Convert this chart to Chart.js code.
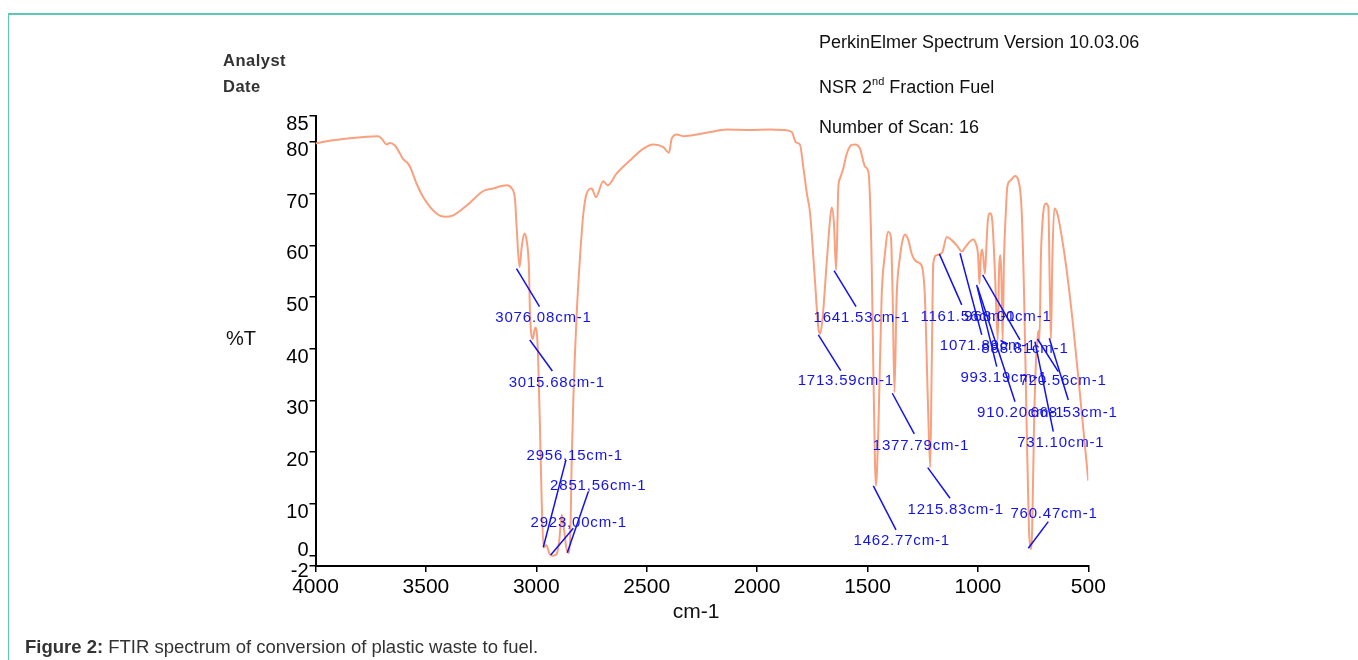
<!DOCTYPE html>
<html>
<head>
<meta charset="utf-8">
<script src="https://cdn.jsdelivr.net/npm/chart.js@4.4.1/dist/chart.umd.min.js"></script>
<style>
html,body{margin:0;padding:0;background:#fff;}
#wrap{position:relative;width:1358px;height:660px;overflow:hidden;background:#fff;font-family:'Liberation Sans',Arial,sans-serif;}
#frame{position:absolute;left:8px;top:13px;width:1350px;height:647px;border-top:2px solid #5ec8b6;border-left:1px solid #5ec8b6;box-sizing:border-box;}
canvas{position:absolute;left:0;top:0;}
.t{position:absolute;white-space:nowrap;line-height:1;color:#111;}
</style>
</head>
<body>
<div id="wrap">
  <div id="frame"></div>
  <canvas id="c" width="1358" height="660"></canvas>
  <div class="t" style="left:223px;top:52px;font-size:16.5px;font-weight:bold;letter-spacing:0.5px;color:#333;">Analyst</div>
  <div class="t" style="left:223px;top:77.7px;font-size:16.5px;font-weight:bold;letter-spacing:0.5px;color:#333;">Date</div>
  <div class="t" style="left:819px;top:33.3px;font-size:18px;">PerkinElmer Spectrum Version 10.03.06</div>
  <div class="t" style="left:819px;top:77.5px;font-size:18px;">NSR 2<span style="font-size:11px;position:relative;top:-8px;">nd</span> Fraction Fuel</div>
  <div class="t" style="left:819px;top:118.1px;font-size:18px;">Number of Scan: 16</div>
  <div class="t" style="left:226px;top:328px;font-size:20px;">%T</div>
  <div class="t" style="left:672.7px;top:599.7px;font-size:21px;">cm-1</div>
  <div class="t" style="left:25px;top:637.6px;font-size:18.5px;color:#333;"><b>Figure 2:</b> FTIR spectrum of conversion of plastic waste to fuel.</div>
</div>
<script>
// ---- data ----
const wavenumbers = [
  4000,3920,3768,3716,3700,3678,3663,3640,3617,3602,3587,3572,3542,3512,3451,3414,3376,3315,3240,3195,
  3134,3111,3096,3089,3076,3066,3054,3044,3033,3029,3016,3005,2996,2991,2983,2976,2967,2955,2938,2923,
  2908,2896,2885,2875,2864,2852,2845,2840,2832,2817,2802,2787,2772,2749,2730,2697,2677,2636,2576,2515,
  2470,2425,2399,2387,2364,2334,2213,2138,2032,1942,1881,1843,1824,1806,1791,1775,1760,1738,1723,1714,
  1703,1685,1670,1662,1652,1642,1632,1625,1610,1594,1572,1557,1534,1511,1496,1489,1481,1474,1466,1462,
  1451,1436,1421,1406,1394,1386,1378,1368,1353,1341,1330,1315,1300,1277,1255,1240,1227,1216,1209,1202,
  1187,1162,1141,1119,1096,1072,1058,1021,1009,999,993,987,980,968,961,955,945,935,922,910,
  904,897,892,888,882,873,867,851,832,817,802,791,779,769,761,754,746,737,731,726,
  721,715,707,692,681,674,669,663,654,640,620,598,568,538,500
];
const transmittance = [
  79.7,80.3,81.0,81.1,80.6,79.5,79.8,79.3,77.7,76.6,76.1,75.2,71.9,69.3,66.1,65.5,65.8,67.7,70.5,71.0,
  71.6,71.0,68.7,63.5,55.8,59.7,62.3,61.0,55.2,47.4,41.9,44.1,42.2,37.1,24.2,11.3,1.6,2.0,0.2,0.0,
  0.3,2.9,7.9,5.3,1.5,0.5,5.5,17.8,30.6,46.8,57.7,66.1,70.0,71.0,69.3,72.4,71.6,73.9,76.4,78.7,
  79.5,79.0,77.9,80.6,81.4,81.1,81.9,82.4,82.3,82.4,82.3,81.9,79.9,79.5,75.2,70.1,66.2,53.2,44.2,42.9,
  46.1,56.5,64.8,67.3,64.3,55.2,71.3,72.9,74.8,77.7,79.4,79.5,78.7,75.2,74.2,69.3,56.5,37.1,17.8,13.5,
  24.2,50.0,58.4,62.6,61.6,50.0,31.6,50.0,57.7,61.0,62.1,61.0,58.4,56.8,56.1,50.0,30.6,17.1,37.2,56.5,
  58.1,58.6,61.6,61.0,60.0,58.8,59.6,61.1,60.3,58.0,52.6,57.8,59.2,54.5,60.3,64.8,66.2,64.8,53.9,41.6,
  55.2,58.1,50.6,41.6,57.1,66.8,71.3,72.6,73.4,72.6,66.8,50.7,24.8,5.5,1.3,5.5,24.8,37.7,41.3,43.5,
  41.7,57.1,64.8,68.1,67.4,50.7,41.9,57.1,67.1,66.1,61.6,55.2,44.2,31.3,14.5
];
const xTicks = [4000,3500,3000,2500,2000,1500,1000,500];
const yTicks = [85,80,70,60,50,40,30,20,10,0,-2];

const peakLabels = ['3076.08cm-1','3015.68cm-1','2956,15cm-1','2851,56cm-1','2923,00cm-1',
  '1641.53cm-1','1713.59cm-1','1377.79cm-1','1462.77cm-1','1215.83cm-1','1161.56cm-1','1071.89cm-1',
  '993.19cm-1','968.00cm-1','910.20cm-1','888.81cm-1','760.47cm-1','731.10cm-1','720.56cm-1','668.53cm-1'];
const peakWavenumbers = [3076.08,3015.68,2956.15,2851.56,2923.00,1641.53,1713.59,1377.79,1462.77,1215.83,
  1161.56,1071.89,993.19,968.00,910.20,888.81,760.47,731.10,720.56,668.53];
const peakTransmittance = [55.5,41.6,1.5,0.5,0.0,55.0,42.6,31.3,13.4,16.9,58.3,58.4,52.3,54.2,41.6,41.6,1.4,41.1,41.6,42.0];

// ---- label layout (pixel offsets from each peak anchor): line start, line end, text centre ----
const labelLayout = [
  {s:[-3,0],e:[20,38],t:[24,49]},
  {s:[-3,-0.5],e:[19.5,30.5],t:[24,42]},
  {s:[-2.7,-0.6],e:[20,-88],t:[28.7,-92]},
  {s:[-1.8,-0.4],e:[19.2,-61.4],t:[29.2,-66.8]},
  {s:[-2.6,-0.7],e:[20,-27.4],t:[25.4,-33]},
  {s:[-2.2,-0.5],e:[19.8,35.5],t:[25.5,46.3]},
  {s:[-2,-0.4],e:[20.4,35.3],t:[25.5,45.6]},
  {s:[-2.2,-0.5],e:[19.8,40.2],t:[26.5,52.2]},
  {s:[-2.4,-0.4],e:[20.3,43.6],t:[26,54.1]},
  {s:[-2.5,-0.6],e:[19.8,30],t:[25.5,41.7]},
  {s:[-2.9,-0.2],e:[19.5,50.8],t:[25.8,62.5]},
  {s:[-2,-0.4],e:[19.7,81.3],t:[26,92.3]},
  {s:[-2.7,-0.2],e:[17.3,81.5],t:[24.6,92.3]},
  {s:[-2.3,-0.4],e:[35,64.6],t:[23,41.3]},
  {s:[-20.2,-53.5],e:[17.3,61.2],t:[23,72]},
  {s:[-2,0],e:[5.5,3.5],t:[22.5,8.5]},
  {s:[-2.5,-0.2],e:[17.5,-26.8],t:[23.2,-34.5]},
  {s:[-2.3,-1.4],e:[16,88.6],t:[23.5,99.4]},
  {s:[-2.1,-1.5],e:[18.7,31.2],t:[23.4,40.5]},
  {s:[-1.8,-0.2],e:[17.2,61.5],t:[22.9,74]}
];

const FONT = "'Liberation Sans', Arial, sans-serif";
Chart.defaults.font.family = FONT;

const peakPlugin = {
  id: 'peakLabels',
  afterDatasetsDraw(chart) {
    const {ctx, scales: {x, y}} = chart;
    ctx.save();
    ctx.strokeStyle = '#1212ee';
    ctx.fillStyle = '#1212ee';
    ctx.lineWidth = 1.5;
    ctx.font = '15px ' + FONT;
    try { ctx.letterSpacing = '0.8px'; } catch (e) {}
    ctx.textAlign = 'center';
    ctx.textBaseline = 'middle';
    peakWavenumbers.forEach((wn, i) => {
      const ax = x.getPixelForValue(wn), ay = y.getPixelForValue(peakTransmittance[i]);
      const L = labelLayout[i];
      ctx.beginPath();
      ctx.moveTo(ax + L.s[0], ay + L.s[1]);
      ctx.lineTo(ax + L.e[0], ay + L.e[1]);
      ctx.stroke();
    });
    peakWavenumbers.forEach((wn, i) => {
      const ax = x.getPixelForValue(wn), ay = y.getPixelForValue(peakTransmittance[i]);
      const L = labelLayout[i];
      ctx.fillText(peakLabels[i], ax + L.t[0], ay + L.t[1]);
    });
    ctx.restore();
  }
};

const yLabelPlugin = {
  id: 'yLabels',
  afterDraw(chart) {
    const {ctx, chartArea, scales: {y}} = chart;
    ctx.save();
    ctx.fillStyle = '#000';
    ctx.font = '20px ' + FONT;
    ctx.textAlign = 'right';
    ctx.textBaseline = 'alphabetic';
    y.ticks.forEach(t => {
      const py = y.getPixelForValue(t.value);
      const off = t.value > 0 ? 14 : (t.value === 0 ? 0 : 11);
      ctx.fillText(String(t.value), chartArea.left - 7, py + off);
    });
    ctx.restore();
  }
};

const axisGrid = {display: true, drawOnChartArea: false, drawTicks: true, tickLength: 6, color: '#000', lineWidth: 1.5};
const axisBorder = {display: true, color: '#000', width: 2};

new Chart(document.getElementById('c'), {
  type: 'line',
  data: {
    datasets: [{
      data: wavenumbers.map((w, i) => ({x: w, y: transmittance[i]})),
      borderColor: '#f9a07e',
      borderWidth: 2,
      pointRadius: 0,
      fill: false,
      cubicInterpolationMode: 'monotone'
    }]
  },
  options: {
    responsive: false,
    animation: false,
    devicePixelRatio: 1,
    layout: {padding: {left: 305.5, right: 269.7, top: 116, bottom: 54}},
    plugins: {legend: {display: false}, tooltip: {enabled: false}},
    scales: {
      x: {
        type: 'linear', min: 500, max: 4000, reverse: true,
        afterBuildTicks: s => { s.ticks = xTicks.map(v => ({value: v})); },
        afterFit: s => { s.height = 40; },
        ticks: {color: '#000', font: {size: 21}, padding: 3, maxRotation: 0, autoSkip: false, callback: v => String(v)},
        grid: axisGrid,
        border: axisBorder
      },
      y: {
        type: 'linear', min: -2, max: 85,
        afterBuildTicks: s => { s.ticks = yTicks.map(v => ({value: v})); },
        afterFit: s => { s.width = 10; },
        ticks: {display: false},
        grid: axisGrid,
        border: axisBorder
      }
    }
  },
  plugins: [peakPlugin, yLabelPlugin]
});
</script>
</body>
</html>
